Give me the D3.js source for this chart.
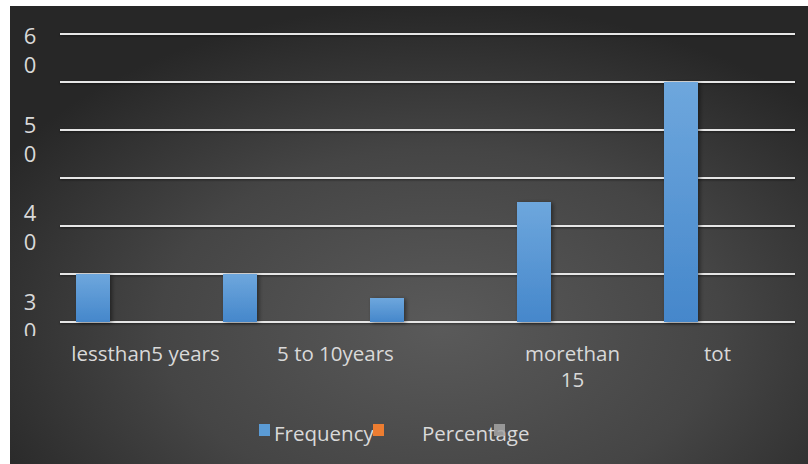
<!DOCTYPE html>
<html>
<head>
<meta charset="utf-8">
<script src="https://cdn.jsdelivr.net/npm/d3@7/dist/d3.min.js"></script>
<style>
  html, body { margin: 0; padding: 0; background: #ffffff; }
  svg { display: block; }
  text { font-family: "Open Sans", "Noto Sans", sans-serif; fill: #d9d9d9; }
</style>
</head>
<body>
<svg id="chart" width="808" height="464"></svg>
<script>
// Years of experience
const categories = ["lessthan5 years", "5 to 10years", "", "morethan 15", "tot"];
const seriesNames = ["Frequency", "Percentage", ""];
const frequency = [10, 10, 5, 25, 50];
const percentage = [0, 0, 0, 0, 0];
const thirdSeries = [0, 0, 0, 0, 0];
const yTicks = [60, 50, 40, 30];
const gridValues = [0, 10, 20, 30, 40, 50, 60];
const seriesColors = ["#5b9bd5", "#ed7d31", "#a5a5a5"];

const svg = d3.select("#chart");
const W = 808, H = 464;

const defs = svg.append("defs");
const bg = defs.append("radialGradient").attr("id", "bg")
  .attr("cx", "0.54").attr("cy", "0.7").attr("r", "0.64")
  .attr("gradientTransform", "translate(0.54,0.7) scale(1,1.1) translate(-0.54,-0.7)");
bg.append("stop").attr("offset", "0").attr("stop-color", "#5a5a5a");
bg.append("stop").attr("offset", "0.55").attr("stop-color", "#454545");
bg.append("stop").attr("offset", "1").attr("stop-color", "#272727");

const barGrad = defs.append("linearGradient").attr("id", "barFill")
  .attr("x1", 0).attr("y1", 0).attr("x2", 0).attr("y2", 1);
barGrad.append("stop").attr("offset", "0").attr("stop-color", "#6ea7dd");
barGrad.append("stop").attr("offset", "1").attr("stop-color", "#4587cb");

const shadow = defs.append("filter").attr("id", "shadow")
  .attr("x", "-30%").attr("y", "-10%").attr("width", "160%").attr("height", "130%");
shadow.append("feDropShadow").attr("dx", 2).attr("dy", 1).attr("stdDeviation", 2.2)
  .attr("flood-color", "#000").attr("flood-opacity", 0.45);

const gridShadow = defs.append("filter").attr("id", "gshadow")
  .attr("x", "-1%").attr("y", "-200%").attr("width", "102%").attr("height", "500%");
gridShadow.append("feDropShadow").attr("dx", 0).attr("dy", 1).attr("stdDeviation", 0.8)
  .attr("flood-color", "#000").attr("flood-opacity", 0.5);

defs.append("clipPath").attr("id", "axisClip")
  .append("rect").attr("x", 0).attr("y", 0).attr("width", W).attr("height", 336);

// chart background
svg.append("rect").attr("x", 10).attr("y", 6).attr("width", W - 10).attr("height", H - 6)
  .attr("fill", "url(#bg)");

const x0 = d3.scaleBand().domain(categories.map((c, i) => i)).range([60, 795]);
const x1 = d3.scaleBand().domain(seriesNames.map((s, i) => i)).range([16, 16 + 34 * 3]);
const y = d3.scaleLinear().domain([0, 60]).range([322, 34]);

// gridlines
svg.append("g").attr("filter", "url(#gshadow)")
  .selectAll("line").data(gridValues).join("line")
  .attr("x1", 60).attr("x2", 795)
  .attr("y1", d => y(d)).attr("y2", d => y(d))
  .attr("stroke", "#e6e6e6").attr("stroke-width", 2.2);

// y tick labels: each value stacks its digits on two lines
const tickPos = d3.scaleLinear().domain([yTicks[0], yTicks[yTicks.length - 1]]).range([44, 310]);
const yAxisG = svg.append("g").attr("clip-path", "url(#axisClip)");
yTicks.forEach(v => {
  const digits = String(v).split("");
  const t = yAxisG.append("text").attr("x", 30).attr("y", tickPos(v))
    .attr("text-anchor", "middle").style("font-size", "22px");
  digits.forEach((d, i) => {
    t.append("tspan").attr("x", 30).attr("dy", i === 0 ? 0 : 29).text(d);
  });
});

// bars
const seriesData = [frequency, percentage, thirdSeries];
const barsG = svg.append("g");
seriesData.forEach((vals, s) => {
  barsG.selectAll(null).data(vals.map((v, i) => ({ v, i }))).join("rect")
    .filter(d => d.v > 0)
    .attr("x", d => x0(d.i) + x1(s))
    .attr("width", x1.bandwidth())
    .attr("y", d => y(d.v))
    .attr("height", d => y(0) - y(d.v))
    .attr("fill", s === 0 ? "url(#barFill)" : seriesColors[s])
    .attr("filter", "url(#shadow)");
});

// category labels (long ones wrap onto a second line)
const labelNudge = [12, 55, 0, -2, -4];
const catG = svg.append("g");
categories.forEach((c, i) => {
  if (!c) return;
  const cx = x0(i) + x0.bandwidth() / 2 + labelNudge[i];
  const lines = c === "morethan 15" ? ["morethan", "15"] : [c];
  lines.forEach((ln, k) => {
    catG.append("text").attr("x", cx).attr("y", 361 + k * 26)
      .attr("text-anchor", "middle").style("font-size", "20.5px").text(ln);
  });
});

// legend
const legendItems = [
  { name: seriesNames[0], color: seriesColors[0], sx: 259, tx: 274 },
  { name: seriesNames[1], color: seriesColors[1], sx: 373, tx: 422 },
  { name: seriesNames[2], color: seriesColors[2], sx: 494, tx: 510 }
];
const legG = svg.append("g");
legendItems.forEach(it => {
  if (it.name) {
    legG.append("text").attr("x", it.tx).attr("y", 441)
      .style("font-size", "20.5px").text(it.name);
  }
});
legendItems.forEach((it, i) => {
  legG.append("rect").attr("x", it.sx).attr("y", 424).attr("width", 11).attr("height", 12)
    .attr("fill", it.color).attr("opacity", i === 2 ? 0.85 : 1);
});
</script>
</body>
</html>
